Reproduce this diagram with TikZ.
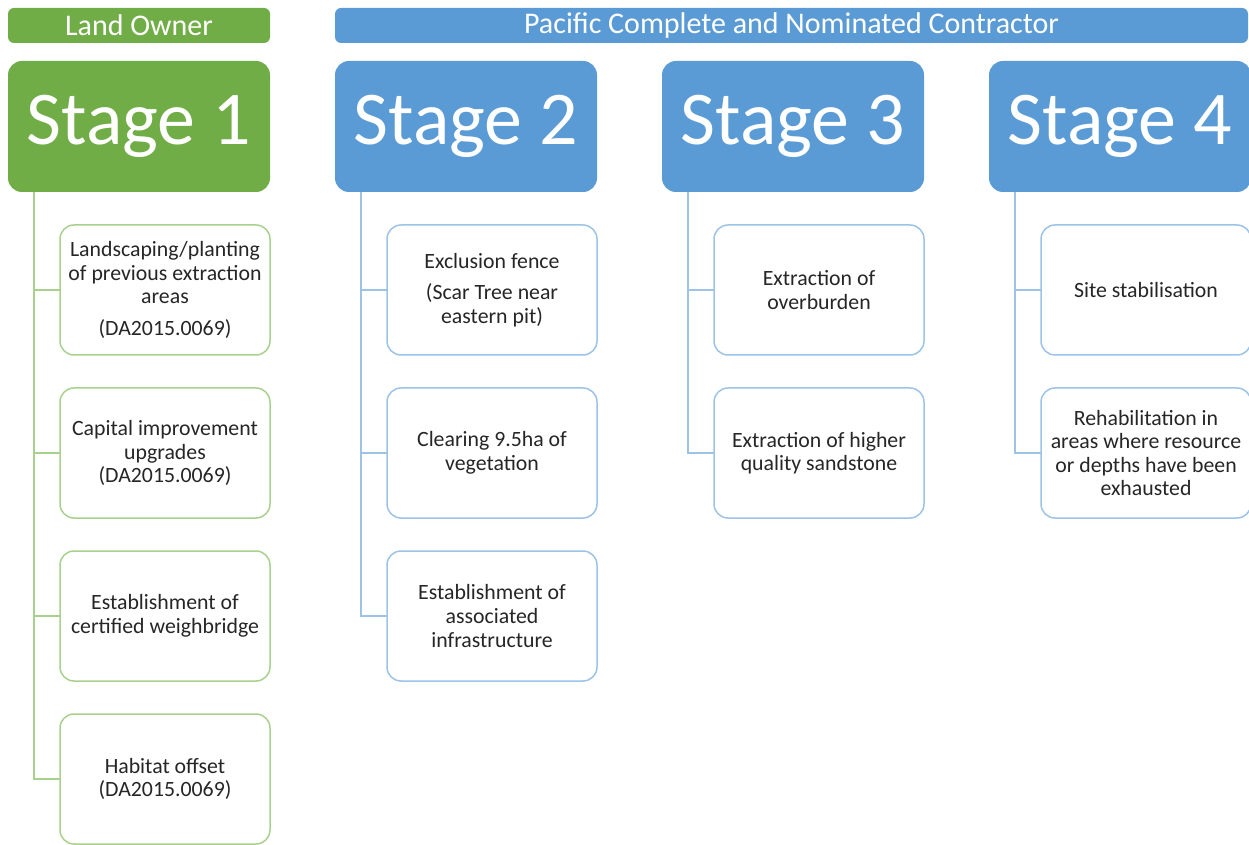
\documentclass[tikz,border=0pt]{standalone}
\usepackage{fontspec}
\setmainfont{Carlito}
\usepackage{xcolor}
\usetikzlibrary{positioning}

\definecolor{ownergreen}{HTML}{70AD47}
\definecolor{ownerline}{HTML}{A9D18E}
\definecolor{contrblue}{HTML}{5B9BD5}
\definecolor{contrline}{HTML}{9DC3E6}
\definecolor{textgray}{HTML}{262626}

\begin{document}
\begin{tikzpicture}[
  node distance=16.5pt,
  header/.style={fill=#1, rounded corners=3pt, minimum height=17.5pt,
    inner sep=0pt, outer sep=0pt, text=white, font=\fontsize{15}{16}\selectfont},
  stagebox/.style={fill=#1, rounded corners=7pt, minimum width=131pt,
    minimum height=65.5pt, inner sep=0pt, outer sep=0pt, text=white,
    font=\fontsize{38}{40}\selectfont},
  task/.style={draw=#1, line width=0.75pt, fill=white, rounded corners=7pt,
    minimum width=105pt, minimum height=65pt, inner sep=2pt, outer sep=0pt,
    align=center, text=textgray, font=\fontsize{10.9}{11.8}\selectfont},
  tree/.style={draw=#1, line width=0.75pt}
]
\useasboundingbox (0,0) rectangle (624.5pt,-422.5pt);

% stages
\node[stagebox=ownergreen] (s1) at (69.5pt,-63.25pt) {Stage 1};
\node[stagebox=contrblue, right=32.5pt of s1] (s2) {Stage 2};
\node[stagebox=contrblue, right=32.5pt of s2] (s3) {Stage 3};
\node[stagebox=contrblue, right=32.5pt of s3] (s4) {Stage 4};

% who does it
\node[header=ownergreen, minimum width=131pt, above=9pt of s1] (owner) {Land Owner};
\node[header=contrblue, minimum width=456.5pt, above=9pt of s2.north west,
  anchor=south west] (contractor) {Pacific Complete and Nominated Contractor};

% stage 1 tasks
\node[task=ownerline, below=of s1.south east, anchor=north east] (c11)
  {Landscaping/planting\\of previous extraction\\areas\\[4pt](DA2015.0069)};
\node[task=ownerline, below=of c11] (c12) {Capital improvement\\upgrades\\(DA2015.0069)};
\node[task=ownerline, below=of c12] (c13) {Establishment of\\certified weighbridge};
\node[task=ownerline, below=of c13] (c14) {Habitat offset\\(DA2015.0069)};

% stage 2 tasks
\node[task=contrline, below=of s2.south east, anchor=north east] (c21)
  {Exclusion fence\\[4pt](Scar Tree near\\eastern pit)};
\node[task=contrline, below=of c21] (c22) {Clearing 9.5ha of\\vegetation};
\node[task=contrline, below=of c22] (c23) {Establishment of\\associated\\infrastructure};

% stage 3 tasks
\node[task=contrline, below=of s3.south east, anchor=north east] (c31) {Extraction of\\overburden};
\node[task=contrline, below=of c31] (c32) {Extraction of higher\\quality sandstone};

% stage 4 tasks
\node[task=contrline, below=of s4.south east, anchor=north east] (c41) {Site stabilisation};
\node[task=contrline, below=of c41] (c42)
  {Rehabilitation in\\areas where resource\\or depths have been\\exhausted};

% connectors
\coordinate (t1) at ([xshift=13pt]s1.south west);
\coordinate (t2) at ([xshift=13pt]s2.south west);
\coordinate (t3) at ([xshift=13pt]s3.south west);
\coordinate (t4) at ([xshift=13pt]s4.south west);
\draw[tree=ownerline] (t1) |- (c14.west);
\foreach \c in {c11,c12,c13}
  \draw[tree=ownerline] (\c.west) -- (\c.west -| t1);
\draw[tree=contrline] (t2) |- (c23.west);
\foreach \c in {c21,c22}
  \draw[tree=contrline] (\c.west) -- (\c.west -| t2);
\draw[tree=contrline] (t3) |- (c32.west);
\draw[tree=contrline] (c31.west) -- (c31.west -| t3);
\draw[tree=contrline] (t4) |- (c42.west);
\draw[tree=contrline] (c41.west) -- (c41.west -| t4);
\end{tikzpicture}
\end{document}
